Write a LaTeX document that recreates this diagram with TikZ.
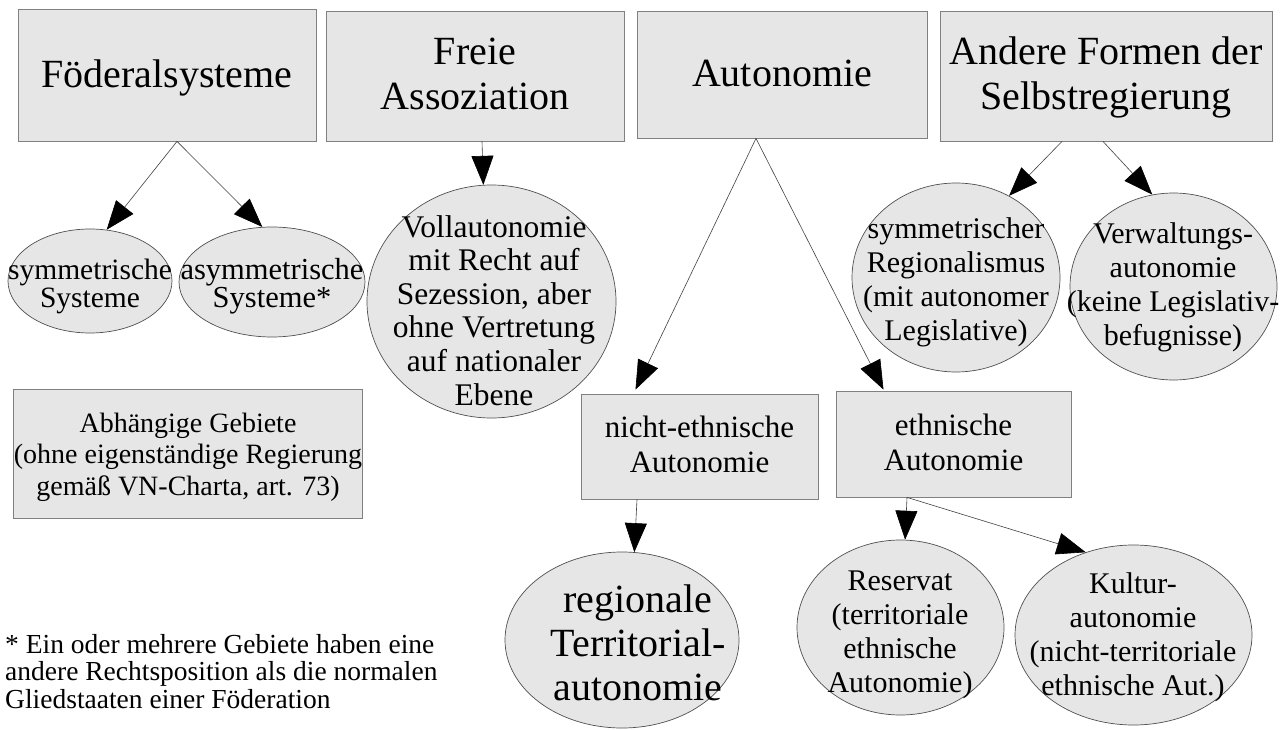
\documentclass[tikz,border=0pt]{standalone}
\usepackage{fontspec}
\setmainfont{Liberation Serif}
\usetikzlibrary{shapes.geometric,arrows.meta,calc}
\definecolor{boxfill}{HTML}{E6E6E6}
\definecolor{boxline}{HTML}{808080}
\definecolor{ellline}{HTML}{505050}
\definecolor{conline}{HTML}{404040}
\tikzset{
  box/.style={rectangle, draw=boxline, fill=boxfill, line width=0.8pt, inner sep=0pt, align=center, text depth=0pt},
  ell/.style={ellipse, draw=ellline, fill=boxfill, line width=0.7pt, inner sep=0pt},
  txt/.style={inner sep=0pt, align=center, anchor=base},
  big/.style={font=\fontsize{40}{45}\selectfont},
  mid/.style={font=\fontsize{30}{34}\selectfont},
  con/.style={draw=conline, line width=0.6pt, -{Triangle[length=29pt,width=22pt,color=black]}},
}
\begin{document}
\begin{tikzpicture}[x=1pt,y=-1pt]
\useasboundingbox (0,0) rectangle (1285,730);
% top boxes
\node[box, big, text height=26pt, minimum width=298, minimum height=132] (foed) at (167,75) {Föderalsysteme};
\node[box, big, text height=68pt, minimum width=298, minimum height=130] (freie) at (475,76) {Freie\\Assoziation};
\node[box, big, text height=25pt, minimum width=290, minimum height=127] (auto) at (782,74.5) {Autonomie};
\node[box, big, text height=68pt, minimum width=332, minimum height=130] (andere) at (1106,76) {Andere Formen der\\Selbstregierung};
% left ellipses
\node[ell, minimum width=164, minimum height=104] (sym) at (90,281) {};
\node[txt, font=\fontsize{29.5}{28}\selectfont] (symT) at (90,307) {symmetrische\\Systeme};
\node[ell, minimum width=186, minimum height=110] (asym) at (272,282) {};
\node[txt, font=\fontsize{30.5}{28}\selectfont] (asymT) at (272,307) {asymmetrische\\Systeme*};
% Vollautonomie
\node[ell, minimum width=249, minimum height=233] (voll) at (491.5,301.5) {};
\node[txt, font=\fontsize{31.5}{33.6}\selectfont] (vollT) at (494,405) {Vollautonomie\\mit Recht auf\\Sezession, aber\\ohne Vertretung\\auf nationaler\\Ebene};
% right circles
\node[ell, minimum width=208, minimum height=189] (symreg) at (956,277.5) {};
\node[txt, mid] (symregT) at (956,340) {symmetrischer\\Regionalismus\\(mit autonomer\\Legislative)};
\node[ell, minimum width=207, minimum height=187] (verw) at (1173.5,286.5) {};
\node[txt, mid] (verwT) at (1173,345) {Verwaltungs-\\autonomie\\(keine Legislativ-\\befugnisse)};
% Abhaengige Gebiete
\node[box, font=\fontsize{28}{31.5}\selectfont, text height=83pt, minimum width=348, minimum height=129] (abh) at (188,453.5) {Abhängige Gebiete\\(ohne eigenständige Regierung\\gemäß VN-Charta, art. 73)};
% middle boxes
\node[box, font=\fontsize{31}{35}\selectfont, text height=51pt, minimum width=237, minimum height=105] (ne) at (699.5,446.5) {nicht-ethnische\\Autonomie};
\node[box, font=\fontsize{31}{35}\selectfont, text height=52pt, minimum width=235, minimum height=106] (eth) at (953.5,444) {ethnische\\Autonomie};
% bottom ellipses
\node[ell, minimum width=234, minimum height=176] (reg) at (622,640) {};
\node[txt, font=\fontsize{40}{44}\selectfont] (regT) at (638,700) {regionale\\Territorial-\\autonomie};
\node[ell, minimum width=207, minimum height=175] (res) at (900.5,627.5) {};
\node[txt, mid] (resT) at (900,692) {Reservat\\(territoriale\\ethnische\\Autonomie)};
\node[ell, minimum width=237, minimum height=180] (kult) at (1133.5,635) {};
\node[txt, mid] (kultT) at (1133,695) {Kultur-\\autonomie\\(nicht-territoriale\\ethnische Aut.)};
% footnote
\node[txt, align=left, anchor=base west, font=\fontsize{27.5}{27.5}\selectfont] (note) at (5,708) {* Ein oder mehrere Gebiete haben eine\\andere Rechtsposition als die normalen\\Gliedstaaten einer Föderation};
% connectors
\draw[con] ($(foed.south)+(10,0)$) -- (sym.72);
\draw[con] ($(foed.south)+(10,0)$) -- (asym.100);
\draw[con] ($(freie.south)+(7,0)$) -- (voll.94.6);
\draw[con] ($(auto.south)+(-26,0)$) -- ($(ne.north)+(-64,-4)$);
\draw[con] ($(auto.south)+(-26,0)$) -- ($(eth.north)+(-70,-1)$);
\draw[con] ($(andere.south)+(-44,0)$) -- (symreg.57.4);
\draw[con] ($(andere.south)+(-3,0)$) -- (verw.103.4);
\draw[con] ($(ne.south)+(-62.5,0)$) -- (reg.82);
\draw[con] ($(eth.south)+(-46.5,0)$) -- (res.87);
\draw[con] ($(eth.south)+(-46.5,0)$) -- (kult.120);
\end{tikzpicture}
\end{document}
